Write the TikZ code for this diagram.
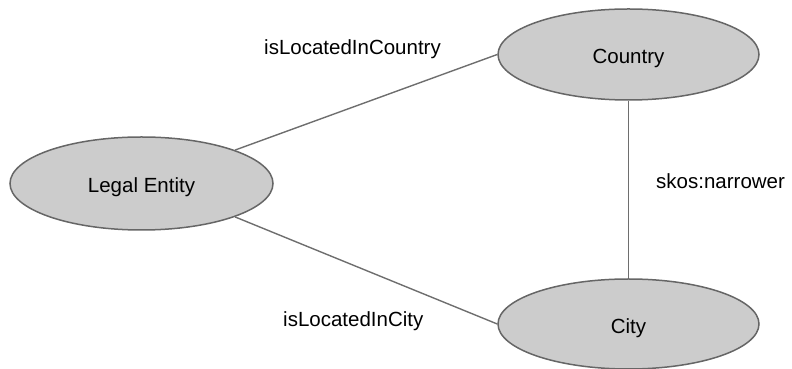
\documentclass[tikz,border=0pt]{standalone}
\usepackage{fontspec}
\setmainfont{Liberation Sans}
\usetikzlibrary{shapes.geometric}
\definecolor{nodefill}{HTML}{CCCCCC}
\definecolor{nodeedge}{HTML}{666666}
\definecolor{linkline}{HTML}{6E6E6E}
\begin{document}
\begin{tikzpicture}[x=1pt,y=1pt,
  concept/.style={ellipse, draw=nodeedge, fill=nodefill, line width=1.5pt,
    inner sep=0pt, text height=18.6pt, text depth=0pt,
    font=\fontsize{20.5}{24}\selectfont},
  link/.style={draw=linkline, line width=1.4pt},
  linklabel/.style={inner sep=0pt, anchor=base west, font=\fontsize{20.5}{24}\selectfont}]
  \useasboundingbox (0,0) rectangle (792,369);
  % concepts
  \node[concept, minimum width=263pt, minimum height=93pt] (legal) at (141.5,185.5) {Legal Entity};
  \node[concept, minimum width=261pt, minimum height=91pt] (country) at (628.5,314.5) {Country};
  \node[concept, minimum width=261pt, minimum height=90pt] (city) at (628.5,45) {City};
  % relations
  \draw[link] (legal.north east) -- (country.west);
  \draw[link] (legal.south east) -- (city.west);
  \draw[link] (country.south) -- (city.north);
  % relation labels
  \node[linklabel] (lblcountry) at (264,314) {isLocatedInCountry};
  \node[linklabel] (lblnarrower) at (656,180) {skos:narrower};
  \node[linklabel] (lblcity) at (283,42) {isLocatedInCity};
\end{tikzpicture}
\end{document}
